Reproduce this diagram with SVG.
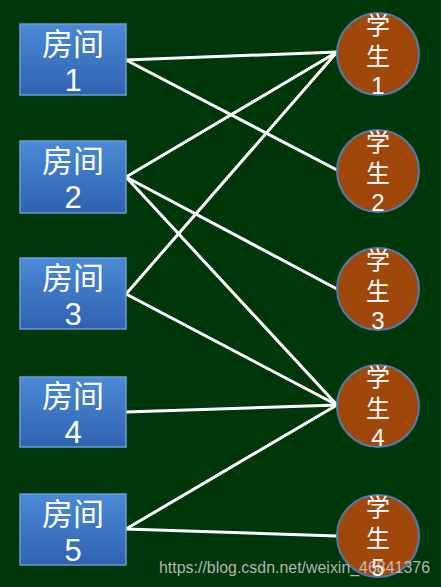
<svg xmlns="http://www.w3.org/2000/svg" width="441" height="587" viewBox="0 0 441 587">
<defs>
<linearGradient id="rg" x1="0" y1="0" x2="0" y2="1">
<stop offset="0" stop-color="#4a8ad6"/>
<stop offset="1" stop-color="#2f62b0"/>
</linearGradient>
</defs>
<style>
.room rect{fill:url(#rg);stroke:#6a9ad8;stroke-width:1.5}
.stu circle{fill:#a0480c;stroke:#4f7cb0;stroke-width:2}
.rt{font-family:"Noto Sans CJK SC","Liberation Sans",sans-serif;font-size:31px;fill:#ffffff;text-anchor:middle}
.rn{font-family:"Liberation Sans",sans-serif;font-size:31px;fill:#ffffff;text-anchor:middle}
.st{font-family:"Noto Sans CJK SC","Liberation Sans",sans-serif;font-size:24px;fill:#ffffff;text-anchor:middle}
.sn{font-family:"Liberation Sans",sans-serif;font-size:24px;fill:#ffffff;text-anchor:middle}
.edges line{stroke:#ffffff;stroke-width:3;stroke-linecap:round}
</style>
<rect x="0" y="0" width="441" height="587" fill="#00370a"/>
<g class="edges" id="connectors">
<line x1="126" y1="60" x2="337" y2="52"/>
<line x1="126" y1="60" x2="337" y2="170"/>
<line x1="126" y1="177" x2="337" y2="52"/>
<line x1="126" y1="177" x2="337" y2="289"/>
<line x1="126" y1="177" x2="337" y2="405"/>
<line x1="126" y1="294" x2="337" y2="52"/>
<line x1="126" y1="294" x2="337" y2="405"/>
<line x1="126" y1="412" x2="337" y2="405"/>
<line x1="126" y1="529" x2="337" y2="405"/>
<line x1="126" y1="529" x2="337" y2="536"/>
</g>
<g class="room" id="room1"><rect x="20" y="24" width="106" height="71"/><text class="rt" x="73" y="55">房间</text><text class="rn" x="73" y="91">1</text></g>
<g class="room" id="room2"><rect x="20" y="141" width="106" height="72"/><text class="rt" x="73" y="172">房间</text><text class="rn" x="73" y="208">2</text></g>
<g class="room" id="room3"><rect x="20" y="258" width="106" height="71"/><text class="rt" x="73" y="289">房间</text><text class="rn" x="73" y="325">3</text></g>
<g class="room" id="room4"><rect x="20" y="377" width="106" height="70"/><text class="rt" x="73" y="407">房间</text><text class="rn" x="73" y="443">4</text></g>
<g class="room" id="room5"><rect x="20" y="494" width="106" height="71"/><text class="rt" x="73" y="525">房间</text><text class="rn" x="73" y="561">5</text></g>
<g class="stu" id="student1"><circle cx="378" cy="54" r="41"/><text class="st" x="378" y="34">学</text><text class="st" x="378" y="65">生</text><text class="sn" x="378" y="94">1</text></g>
<g class="stu" id="student2"><circle cx="378" cy="171" r="41"/><text class="st" x="378" y="151">学</text><text class="st" x="378" y="182">生</text><text class="sn" x="378" y="211">2</text></g>
<g class="stu" id="student3"><circle cx="378" cy="289" r="41"/><text class="st" x="378" y="269">学</text><text class="st" x="378" y="300">生</text><text class="sn" x="378" y="329">3</text></g>
<g class="stu" id="student4"><circle cx="378" cy="406" r="41"/><text class="st" x="378" y="386">学</text><text class="st" x="378" y="417">生</text><text class="sn" x="378" y="446">4</text></g>
<g class="stu" id="student5"><circle cx="378" cy="536" r="41"/><text class="st" x="378" y="516">学</text><text class="st" x="378" y="547">生</text><text class="sn" x="378" y="576">5</text></g>
<text x="159" y="573" font-family="Liberation Sans, sans-serif" font-size="17" fill="#d0d0d0" fill-opacity="0.85" textLength="271" lengthAdjust="spacingAndGlyphs">https://blog.csdn.net/weixin_46841376</text>
</svg>
